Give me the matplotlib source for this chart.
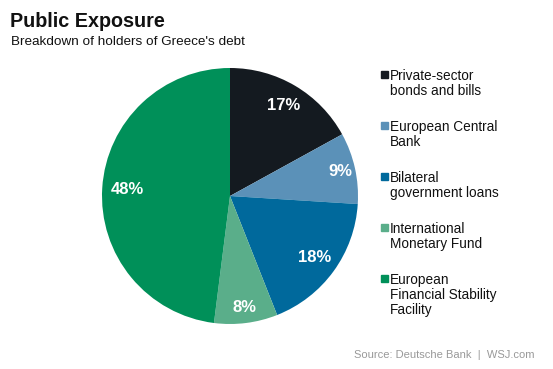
import numpy as np
import matplotlib.pyplot as plt
from matplotlib.patches import Rectangle

plt.rcParams['font.family'] = ['Liberation Sans', 'DejaVu Sans']

# Data
labels = ['Private-sector\nbonds and bills', 'European Central\nBank',
          'Bilateral\ngovernment loans', 'International\nMonetary Fund',
          'European\nFinancial Stability\nFacility']
shares = [17, 9, 18, 8, 48]
colors = ['#141a20', '#5b91b8', '#00699c', '#5aae8a', '#009059']
label_dist = [0.82, 0.88, 0.82, 0.88, 0.80]

W, H = 553, 369
fig = plt.figure(figsize=(W / 100, H / 100), dpi=100)

# Pie
cx, cy, r = 230, 173, 128
ax = fig.add_axes([(cx - r) / W, (cy - r) / H, 2 * r / W, 2 * r / H])
wedges, _ = ax.pie(shares, colors=colors, startangle=90, counterclock=False,
                   radius=1, wedgeprops=dict(linewidth=0))
ax.set_xlim(-1, 1)
ax.set_ylim(-1, 1)
ax.set_aspect('equal')
ax.axis('off')

for w, s, d in zip(wedges, shares, label_dist):
    ang = np.deg2rad((w.theta1 + w.theta2) / 2)
    ax.text(d * np.cos(ang), d * np.sin(ang), f'{s}%', color='white',
            fontsize=12, fontweight='bold', ha='center', va='center')

# Titles
fig.text(10 / W, 1 - 27 / H, 'Public Exposure', fontsize=14.2, fontweight='bold',
         color='#111111', va='baseline')
fig.text(11 / W, 1 - 45 / H, "Breakdown of holders of Greece's debt", fontsize=9.7,
         color='#111111', va='baseline')

# Legend
y0 = 69
for i, (lab, c) in enumerate(zip(labels, colors)):
    y = y0 + i * 51
    fig.patches.append(Rectangle((381 / W, 1 - (y + 9) / H), 7 / W, 7 / H,
                                 transform=fig.transFigure, color=c))
    fig.text(390 / W, 1 - y / H, lab, fontsize=9.8, color='#111111',
             va='top', linespacing=1.08)

# Source
fig.text(535 / W, 1 - 358 / H, 'Source: Deutsche Bank  |  WSJ.com', fontsize=8,
         color='#999999', ha='right', va='baseline')

fig.savefig('out.png', dpi=100)
